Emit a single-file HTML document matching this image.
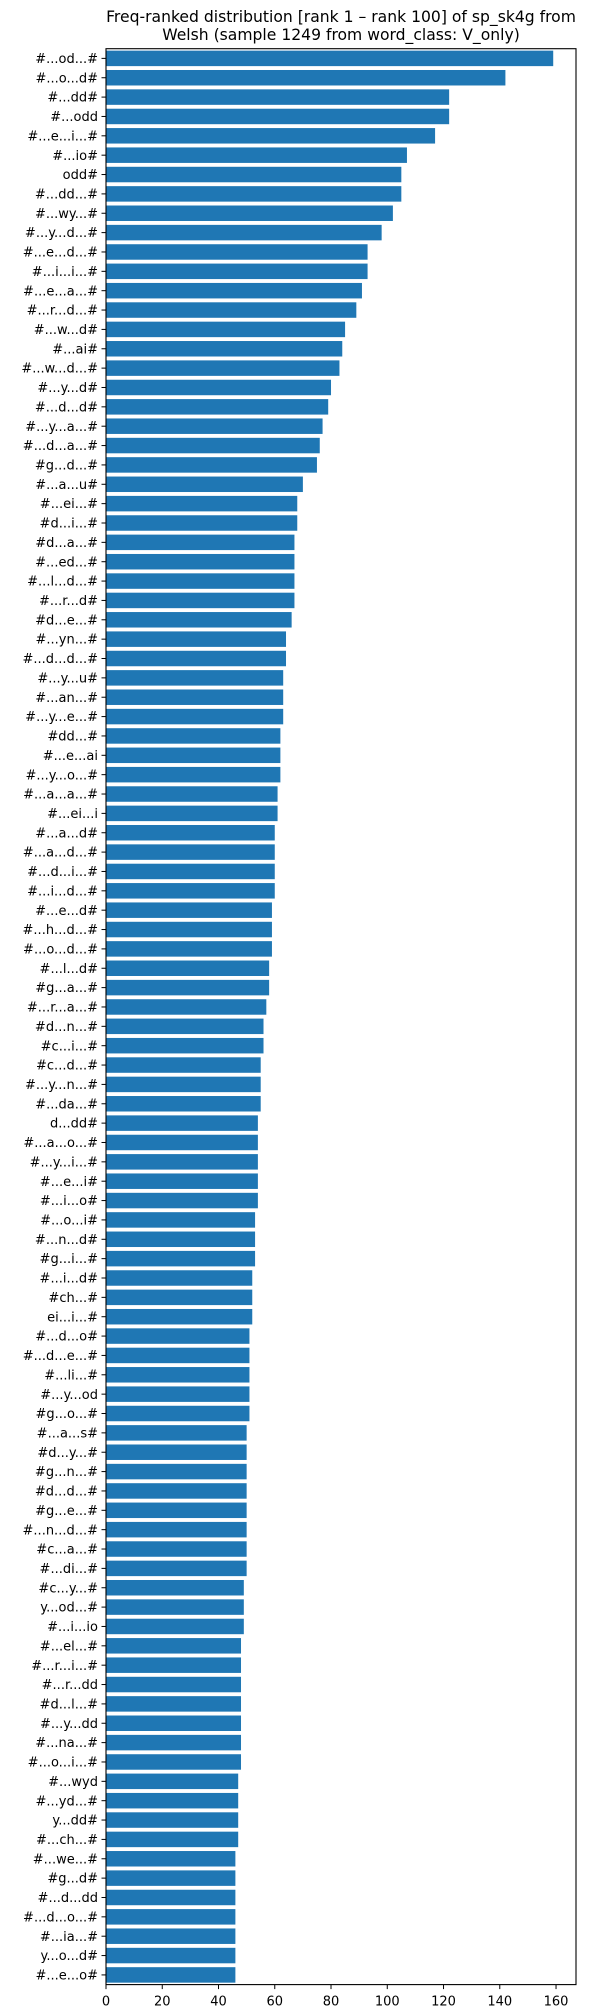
<!DOCTYPE html>
<html><head><meta charset="utf-8">
<style>
html,body{margin:0;padding:0;background:#fff;}
svg{display:block;font-family:"DejaVu Sans","Liberation Sans",sans-serif;}
</style></head>
<body>
<svg id="chart" width="599" height="2007" viewBox="0 0 599 2007">
<text x="341" y="22" text-anchor="middle" font-size="15.6" fill="#000">Freq-ranked distribution [rank 1 – rank 100] of sp_sk4g from</text>
<text x="341" y="40" text-anchor="middle" font-size="15.6" fill="#000">Welsh (sample 1249 from word_class: V_only)</text>
<g id="bars"></g>
<g id="yaxis"></g>
<g id="xaxis"></g>
<rect x="106" y="48.7" width="470" height="1935.9" fill="none" stroke="#000" stroke-width="1.1"/>
</svg>
<script>
const categories = ["#...od...#","#...o...d#","#...dd#","#...odd","#...e...i...#","#...io#","odd#","#...dd...#","#...wy...#","#...y...d...#",
"#...e...d...#","#...i...i...#","#...e...a...#","#...r...d...#","#...w...d#","#...ai#","#...w...d...#","#...y...d#","#...d...d#","#...y...a...#",
"#...d...a...#","#g...d...#","#...a...u#","#...ei...#","#d...i...#","#d...a...#","#...ed...#","#...l...d...#","#...r...d#","#d...e...#",
"#...yn...#","#...d...d...#","#...y...u#","#...an...#","#...y...e...#","#dd...#","#...e...ai","#...y...o...#","#...a...a...#","#...ei...i",
"#...a...d#","#...a...d...#","#...d...i...#","#...i...d...#","#...e...d#","#...h...d...#","#...o...d...#","#...l...d#","#g...a...#","#...r...a...#",
"#d...n...#","#c...i...#","#c...d...#","#...y...n...#","#...da...#","d...dd#","#...a...o...#","#...y...i...#","#...e...i#","#...i...o#",
"#...o...i#","#...n...d#","#g...i...#","#...i...d#","#ch...#","ei...i...#","#...d...o#","#...d...e...#","#...li...#","#...y...od",
"#g...o...#","#...a...s#","#d...y...#","#g...n...#","#d...d...#","#g...e...#","#...n...d...#","#c...a...#","#...di...#","#c...y...#",
"y...od...#","#...i...io","#...el...#","#...r...i...#","#...r...dd","#d...l...#","#...y...dd","#...na...#","#...o...i...#","#...wyd",
"#...yd...#","y...dd#","#...ch...#","#...we...#","#g...d#","#...d...dd","#...d...o...#","#...ia...#","y...o...d#","#...e...o#"];
const values = [159,142,122,122,117,107,105,105,102,98,93,93,91,89,85,84,83,80,79,77,76,75,70,68,68,67,67,67,67,66,
64,64,63,63,63,62,62,62,61,61,60,60,60,60,59,59,59,58,58,57,56,56,55,55,55,54,54,54,54,54,
53,53,53,52,52,52,51,51,51,51,51,50,50,50,50,50,50,50,50,49,49,49,48,48,48,48,48,48,48,47,
47,47,47,46,46,46,46,46,46,46];
const xTicks = [0,20,40,60,80,100,120,140,160];

const NS="http://www.w3.org/2000/svg";
const X0=106, XMAX_PX=576, XMAXV=167.1;
const xScale=v=>X0+v*(XMAX_PX-X0)/XMAXV;
const Y0=48.7, H=1935.9, N=categories.length;
const band=H/(N-1+1.0);
const yCenter=i=>Y0+band*0.5+i*band*((H-band)/(band*(N-1)));
const barH=band*0.8;
const bars=document.getElementById('bars'), ya=document.getElementById('yaxis'), xa=document.getElementById('xaxis');
function mk(t,a){const e=document.createElementNS(NS,t);for(const k in a)e.setAttribute(k,a[k]);return e;}
categories.forEach((c,i)=>{
  const y=yCenter(i);
  const r=mk('rect',{x:X0,y:y-barH/2,width:xScale(values[i])-X0,height:barH,fill:'#1f77b4'});
  
  
  bars.appendChild(r);
  const tk=mk('line',{x1:X0-4.5,x2:X0,y1:y,y2:y,stroke:'#000','stroke-width':1});
  
  
  ya.appendChild(tk);
  const t=mk('text',{x:X0-8,y:y+4.6,'text-anchor':'end','font-size':13,fill:'#000'});
  t.textContent=c;
  
  
  ya.appendChild(t);
});
const yb=Y0+H;
xTicks.forEach(v=>{
  const x=xScale(v);
  const tk=mk('line',{x1:x,x2:x,y1:yb,y2:yb+4.5,stroke:'#000','stroke-width':1});
  
  
  xa.appendChild(tk);
  const t=mk('text',{x:x,y:yb+21,'text-anchor':'middle','font-size':13,fill:'#000'});
  t.textContent=v;
  
  
  xa.appendChild(t);
});
</script>
</body></html>
